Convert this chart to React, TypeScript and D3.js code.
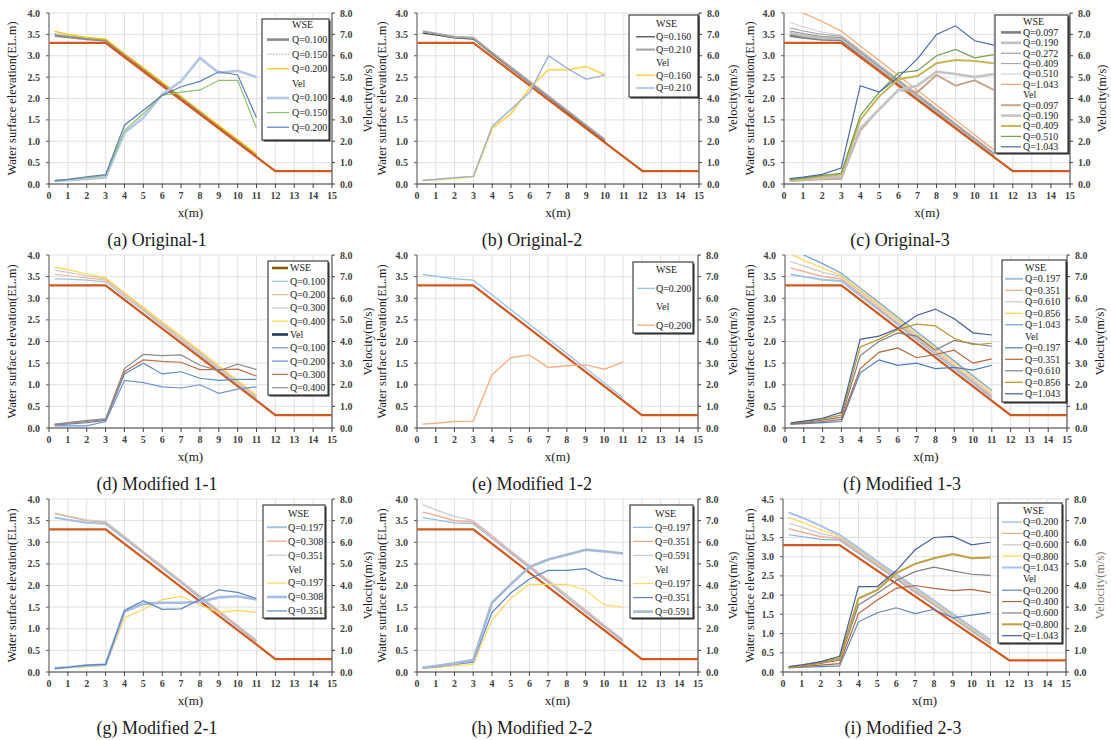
import React from "react";
import * as d3 from "d3";

// stations (m) where WSE and velocity were measured
const xs = [0.3, 1, 2, 3, 4, 5, 6, 7, 8, 9, 10, 11];
// channel bed profile
const bedX = [0, 3, 12, 15];
const bedY = [3.3, 3.3, 0.3, 0.3];
const xTicks = d3.range(0, 16);

// (a) Original-1
const aWseQ = ["Q=0.100", "Q=0.150", "Q=0.200"];
const aWse = [
  [3.47, 3.44, 3.39, 3.36, 3.02, 2.69, 2.35, 2.01, 1.67, 1.34, 1.0, 0.66],
  [3.52, 3.47, 3.41, 3.37, 3.03, 2.7, 2.36, 2.03, 1.69, 1.35, 1.02, 0.68],
  [3.57, 3.5, 3.43, 3.39, 3.05, 2.72, 2.38, 2.05, 1.71, 1.37, 1.04, 0.7],
];
const aVelQ = ["Q=0.100", "Q=0.150", "Q=0.200"];
const aVel = [
  [0.14, 0.18, 0.24, 0.3, 2.4, 3.1, 4.2, 4.8, 5.9, 5.2, 5.3, 5.0],
  [0.14, 0.2, 0.3, 0.4, 2.5, 3.3, 4.15, 4.3, 4.4, 4.85, 4.85, 2.6],
  [0.16, 0.22, 0.34, 0.44, 2.75, 3.45, 4.15, 4.55, 4.8, 5.25, 5.1, 3.1],
];

// (b) Original-2
const bWseQ = ["Q=0.160", "Q=0.210"];
const bWse = [
  [3.53, 3.49, 3.42, 3.39, 3.04, 2.7, 2.36, 2.02, 1.68, 1.34, 1.0],
  [3.57, 3.52, 3.44, 3.42, 3.07, 2.73, 2.39, 2.05, 1.71, 1.37, 1.03],
];
const bVelQ = ["Q=0.160", "Q=0.210"];
const bVel = [
  [0.17, 0.2, 0.27, 0.35, 2.6, 3.3, 4.5, 5.35, 5.35, 5.5, 5.1],
  [0.17, 0.22, 0.3, 0.35, 2.7, 3.5, 4.3, 6.0, 5.4, 4.9, 5.1],
];

// (c) Original-3
const cWseQ = ["Q=0.097", "Q=0.190", "Q=0.272", "Q=0.409", "Q=0.510", "Q=1.043"];
const cWse = [
  [3.47, 3.43, 3.38, 3.37, 3.03, 2.7, 2.36, 2.02, 1.68, 1.35, 1.01, 0.67],
  [3.53, 3.47, 3.41, 3.4, 3.06, 2.72, 2.38, 2.04, 1.71, 1.37, 1.03, 0.69],
  [3.58, 3.52, 3.45, 3.43, 3.09, 2.75, 2.41, 2.07, 1.73, 1.39, 1.05, 0.71],
  [3.65, 3.58, 3.5, 3.46, 3.12, 2.78, 2.44, 2.1, 1.75, 1.41, 1.07, 0.73],
  [3.78, 3.68, 3.55, 3.49, 3.15, 2.8, 2.46, 2.12, 1.78, 1.43, 1.09, 0.75],
  [4.12, 4.0, 3.8, 3.58, 3.23, 2.89, 2.54, 2.19, 1.85, 1.5, 1.15, 0.8],
];
const cVelQ = ["Q=0.097", "Q=0.190", "Q=0.409", "Q=0.510", "Q=1.043"];
const cVel = [
  [0.15, 0.18, 0.22, 0.25, 2.5, 3.5, 4.4, 4.3, 5.1, 4.6, 4.85, 4.4],
  [0.15, 0.2, 0.28, 0.35, 2.6, 3.5, 4.4, 4.6, 5.25, 5.15, 5.0, 5.15],
  [0.18, 0.25, 0.35, 0.45, 3.0, 4.1, 4.9, 5.05, 5.65, 5.8, 5.75, 5.65],
  [0.2, 0.28, 0.4, 0.5, 3.2, 4.3, 5.2, 5.3, 6.0, 6.3, 5.9, 6.05],
  [0.25, 0.32, 0.45, 0.75, 4.6, 4.3, 5.0, 5.85, 7.0, 7.4, 6.7, 6.5],
];

// (d) Modified 1-1
const dWseQ = ["Q=0.100", "Q=0.200", "Q=0.300", "Q=0.400"];
const dWse = [
  [3.45, 3.44, 3.42, 3.38, 3.04, 2.71, 2.37, 2.03, 1.69, 1.36, 1.02, 0.68],
  [3.55, 3.52, 3.47, 3.42, 3.08, 2.74, 2.4, 2.07, 1.73, 1.39, 1.05, 0.71],
  [3.65, 3.6, 3.52, 3.45, 3.11, 2.77, 2.43, 2.09, 1.75, 1.41, 1.07, 0.73],
  [3.72, 3.66, 3.56, 3.47, 3.13, 2.79, 2.45, 2.12, 1.78, 1.44, 1.1, 0.76],
];
const dVelQ = ["Q=0.100", "Q=0.200", "Q=0.300", "Q=0.400"];
const dVel = [
  [0.1, 0.1, 0.1, 0.3, 2.2, 2.1, 1.9, 1.85, 2.0, 1.6, 1.8, 1.9],
  [0.14, 0.18, 0.25, 0.35, 2.5, 3.0, 2.5, 2.6, 2.3, 2.2, 2.25, 2.25],
  [0.16, 0.22, 0.3, 0.4, 2.6, 3.15, 3.08, 3.04, 2.7, 2.7, 2.72, 2.4],
  [0.18, 0.25, 0.35, 0.42, 2.75, 3.4, 3.35, 3.38, 2.9, 2.65, 2.95, 2.7],
];

// (e) Modified 1-2
const eWseQ = ["Q=0.200"];
const eWse = [[3.55, 3.51, 3.45, 3.42, 3.08, 2.74, 2.4, 2.06, 1.72, 1.38, 1.04, 0.7]];
const eVelQ = ["Q=0.200"];
const eVel = [[0.18, 0.22, 0.3, 0.32, 2.45, 3.25, 3.38, 2.8, 2.88, 2.92, 2.72, 3.05]];

// (f) Modified 1-3
const fWseQ = ["Q=0.197", "Q=0.351", "Q=0.610", "Q=0.856", "Q=1.043"];
const fWse = [
  [3.55, 3.5, 3.43, 3.4, 3.06, 2.73, 2.39, 2.05, 1.71, 1.38, 1.04, 0.7],
  [3.7, 3.62, 3.5, 3.45, 3.11, 2.77, 2.43, 2.1, 1.76, 1.42, 1.08, 0.74],
  [3.85, 3.75, 3.6, 3.5, 3.16, 2.82, 2.48, 2.14, 1.8, 1.46, 1.12, 0.78],
  [4.02, 3.88, 3.7, 3.53, 3.19, 2.86, 2.52, 2.18, 1.84, 1.51, 1.17, 0.83],
  [4.15, 4.0, 3.8, 3.58, 3.24, 2.9, 2.56, 2.23, 1.89, 1.55, 1.21, 0.87],
];
const fVelQ = ["Q=0.197", "Q=0.351", "Q=0.610", "Q=0.856", "Q=1.043"];
const fVel = [
  [0.18, 0.2, 0.25, 0.3, 2.55, 3.15, 2.9, 3.0, 2.75, 2.8, 2.68, 2.9],
  [0.18, 0.22, 0.3, 0.4, 2.75, 3.5, 3.7, 3.25, 3.4, 3.6, 3.0, 3.2],
  [0.2, 0.26, 0.36, 0.5, 3.35, 4.0, 4.4, 4.25, 3.6, 4.05, 3.9, 3.78],
  [0.22, 0.3, 0.42, 0.6, 3.75, 4.1, 4.55, 4.8, 4.72, 4.15, 3.85, 3.92],
  [0.24, 0.32, 0.45, 0.72, 4.1, 4.25, 4.6, 5.2, 5.5, 5.05, 4.4, 4.3],
];

// (g) Modified 2-1
const gWseQ = ["Q=0.197", "Q=0.308", "Q=0.351"];
const gWse = [
  [3.57, 3.52, 3.45, 3.43, 3.09, 2.75, 2.41, 2.07, 1.72, 1.38, 1.04, 0.7],
  [3.66, 3.59, 3.5, 3.46, 3.12, 2.77, 2.43, 2.09, 1.75, 1.4, 1.06, 0.72],
  [3.68, 3.61, 3.52, 3.48, 3.14, 2.79, 2.45, 2.11, 1.77, 1.42, 1.08, 0.74],
];
const gVelQ = ["Q=0.197", "Q=0.308", "Q=0.351"];
const gVel = [
  [0.16, 0.2, 0.25, 0.3, 2.5, 2.9, 3.35, 3.5, 3.1, 2.75, 2.85, 2.75],
  [0.18, 0.22, 0.3, 0.35, 2.8, 3.15, 3.2, 3.2, 3.25, 3.45, 3.5, 3.35],
  [0.16, 0.22, 0.32, 0.35, 2.85, 3.3, 2.9, 2.92, 3.35, 3.8, 3.68, 3.4],
];

// (h) Modified 2-2
const hWseQ = ["Q=0.197", "Q=0.351", "Q=0.591"];
const hWse = [
  [3.57, 3.52, 3.45, 3.43, 3.09, 2.75, 2.41, 2.07, 1.72, 1.38, 1.04, 0.7],
  [3.7, 3.62, 3.5, 3.47, 3.13, 2.78, 2.44, 2.1, 1.76, 1.41, 1.07, 0.73],
  [3.87, 3.75, 3.6, 3.5, 3.16, 2.81, 2.47, 2.13, 1.78, 1.44, 1.09, 0.75],
];
const hVelQ = ["Q=0.197", "Q=0.351", "Q=0.591"];
const hVel = [
  [0.16, 0.2, 0.28, 0.35, 2.4, 3.4, 4.05, 4.05, 4.05, 3.78, 3.1, 3.0],
  [0.18, 0.24, 0.35, 0.45, 2.75, 3.65, 4.3, 4.7, 4.7, 4.78, 4.35, 4.2],
  [0.2, 0.28, 0.4, 0.55, 3.2, 4.05, 4.85, 5.2, 5.42, 5.65, 5.58, 5.48],
];

// (i) Modified 2-3
const iWseQ = ["Q=0.200", "Q=0.400", "Q=0.600", "Q=0.800", "Q=1.043"];
const iWse = [
  [3.57, 3.52, 3.45, 3.43, 3.09, 2.75, 2.41, 2.07, 1.74, 1.4, 1.06, 0.72],
  [3.73, 3.64, 3.52, 3.47, 3.13, 2.79, 2.45, 2.11, 1.77, 1.43, 1.09, 0.75],
  [3.87, 3.77, 3.6, 3.5, 3.16, 2.82, 2.48, 2.14, 1.79, 1.45, 1.11, 0.77],
  [4.02, 3.9, 3.7, 3.53, 3.19, 2.85, 2.51, 2.17, 1.82, 1.48, 1.14, 0.8],
  [4.15, 4.02, 3.8, 3.57, 3.23, 2.88, 2.54, 2.2, 1.86, 1.51, 1.17, 0.83],
];
const iVelQ = ["Q=0.200", "Q=0.400", "Q=0.600", "Q=0.800", "Q=1.043"];
const iVel = [
  [0.19, 0.22, 0.25, 0.28, 2.32, 2.74, 2.97, 2.7, 2.9, 2.5, 2.63, 2.76],
  [0.2, 0.25, 0.32, 0.39, 2.7, 3.33, 3.87, 4.0, 3.87, 3.76, 3.82, 3.67],
  [0.21, 0.28, 0.4, 0.54, 3.1, 3.64, 4.23, 4.64, 4.85, 4.68, 4.52, 4.47],
  [0.22, 0.3, 0.45, 0.62, 3.4, 3.8, 4.57, 5.0, 5.26, 5.45, 5.26, 5.3],
  [0.25, 0.33, 0.48, 0.73, 3.95, 3.95, 4.68, 5.65, 6.22, 6.27, 5.88, 6.0],
];

type St = { c: string; w: number; dash?: string };
const s = (c: string, w = 1.2, dash?: string): St => ({ c, w, dash });

const FONT = "Liberation Serif";
const BED = "#d2581e";

const panels = [
  {
    id: "a", cap: "(a)  Original-1", l: 49, r: 332, t: 13, b: 184, yMax: 4,
    lt: 12, rt: 368, capX: 157,
    lg: { x: 262, y: 19, w: 67, h: 121, r0: 25, dy: 14.6, s0: 5, s1: 27, tx: 30 },
    wseQ: aWseQ, wse: aWse, velQ: aVelQ, vel: aVel,
    wseSt: [s("#8c8c8c", 2.6), s("#a6a6a6", 1, "1.5,1.5"), s("#ffc000", 1.2)],
    velSt: [s("#b4c7e7", 2.6), s("#8fc26b", 1.2), s("#5b7fb5", 1.2)],
  },
  {
    id: "b", cap: "(b)  Original-2", l: 417, r: 699, t: 13, b: 184, yMax: 4,
    lt: 382, rt: 733, capX: 532,
    lg: { x: 629, y: 15, w: 69, h: 82, r0: 24, dy: 12.8, s0: 7, s1: 26, tx: 27 },
    wseQ: bWseQ, wse: bWse, velQ: bVelQ, vel: bVel,
    wseSt: [s("#404040", 1.2), s("#a6a6a6", 2.2)],
    velSt: [s("#ffd966", 2), s("#8faadc", 1.2)],
  },
  {
    id: "c", cap: "(c)  Original-3", l: 784, r: 1070, t: 13, b: 184, yMax: 4,
    lt: 750, rt: 1102, capX: 900,
    lg: { x: 995, y: 15, w: 73, h: 138, r0: 22, dy: 10.4, s0: 6, s1: 26, tx: 28 },
    wseQ: cWseQ, wse: cWse, velQ: cVelQ, vel: cVel,
    wseSt: [s("#7f7f7f", 2.6), s("#bfbfbf", 2.6), s("#8c8c8c", 1), s("#a0a0a0", 1), s("#cccccc", 1), s("#f4a46c", 1.2)],
    velSt: [s("#c9a58f", 2), s("#c4c4c4", 2.6), s("#c9b458", 2), s("#70a050", 1.2), s("#4a6aa8", 1.2)],
  },
  {
    id: "d", cap: "(d)  Modified 1-1", l: 49, r: 332, t: 255, b: 428, yMax: 4,
    lt: 12, rt: 368, capX: 157,
    lg: { x: 268, y: 261, w: 60, h: 134, r0: 268, dy: 13.3, s0: 4, s1: 20, tx: 22 },
    hdr: [s("#806000", 2.6), s("#203864", 2.6)],
    wseQ: dWseQ, wse: dWse, velQ: dVelQ, vel: dVel,
    wseSt: [s("#9dc3e6"), s("#f8b894"), s("#c9c9c9"), s("#ffd34d")],
    velSt: [s("#6f93d8"), s("#5b8ec4"), s("#c0714a"), s("#8c8c8c")],
  },
  {
    id: "e", cap: "(e)  Modified 1-2", l: 417, r: 698, t: 255, b: 428, yMax: 4,
    lt: 382, rt: 733, capX: 532,
    lg: { x: 633, y: 262, w: 60, h: 71, r0: 270, dy: 18.4, s0: 4, s1: 22, tx: 23 },
    wseQ: eWseQ, wse: eWse, velQ: eVelQ, vel: eVel,
    wseSt: [s("#9dc3e6", 1.4)],
    velSt: [s("#f4b183", 1.4)],
  },
  {
    id: "f", cap: "(f)  Modified 1-3", l: 785, r: 1067, t: 255, b: 428, yMax: 4,
    lt: 750, rt: 1100, capX: 902,
    lg: { x: 1002, y: 260, w: 64, h: 142, r0: 267.3, dy: 11.5, s0: 3, s1: 21, tx: 23 },
    wseQ: fWseQ, wse: fWse, velQ: fVelQ, vel: fVel,
    wseSt: [s("#9dc3e6", 2), s("#f4a582"), s("#c9c9c9"), s("#ffd34d"), s("#6f9fdc")],
    velSt: [s("#4f7cbd"), s("#b5653a"), s("#7f7f7f"), s("#b8962a"), s("#44609c")],
  },
  {
    id: "g", cap: "(g)  Modified 2-1", l: 49, r: 332, t: 499, b: 672, yMax: 4,
    lt: 12, rt: 368, capX: 157,
    lg: { x: 263, y: 505, w: 62, h: 113, r0: 513.3, dy: 13.95, s0: 4, s1: 24, tx: 25 },
    wseQ: gWseQ, wse: gWse, velQ: gVelQ, vel: gVel,
    wseSt: [s("#9dc3e6", 2), s("#f4a582"), s("#c9c9c9")],
    velSt: [s("#ffd34d"), s("#a4bde6", 2.6), s("#5f84b8")],
  },
  {
    id: "h", cap: "(h)  Modified 2-2", l: 417, r: 698, t: 499, b: 672, yMax: 4,
    lt: 382, rt: 733, capX: 532,
    lg: { x: 630, y: 505, w: 63, h: 113, r0: 513.3, dy: 14.05, s0: 3, s1: 23, tx: 25 },
    wseQ: hWseQ, wse: hWse, velQ: hVelQ, vel: hVel,
    wseSt: [s("#8fb4e3"), s("#f4a582"), s("#c9c9c9")],
    velSt: [s("#ffd966"), s("#5a82c8"), s("#a4b8d8", 2.6)],
  },
  {
    id: "i", cap: "(i)  Modified 2-3", l: 783, r: 1066, t: 499, b: 672, yMax: 4.5,
    lt: 750, rt: 1100, capX: 903, rtColor: "#7b7b6b",
    lg: { x: 998, y: 503, w: 64, h: 140, r0: 510.7, dy: 11.36, s0: 4, s1: 24, tx: 25 },
    wseQ: iWseQ, wse: iWse, velQ: iVelQ, vel: iVel,
    wseSt: [s("#8fb4e3"), s("#f4a582"), s("#c9c9c9"), s("#ffd34d"), s("#a4c2f4", 2)],
    velSt: [s("#5f84b8"), s("#b5653a"), s("#7f7f7f"), s("#bfa040", 2), s("#44609c")],
  },
];

function Panel({ p }: { p: any }) {
  const x = d3.scaleLinear().domain([0, 15]).range([p.l, p.r]);
  const yL = d3.scaleLinear().domain([0, p.yMax]).range([p.b, p.t]);
  const yR = d3.scaleLinear().domain([0, 8]).range([p.b, p.t]);
  const lTicks = d3.range(0, p.yMax + 0.01, 0.5);
  const rTicks = d3.range(0, 8.01, 1);
  const lineL = d3.line<number>().x((_, i) => x(xs[i])).y((d) => yL(d));
  const lineR = d3.line<number>().x((_, i) => x(xs[i])).y((d) => yR(d));
  const bed = d3.line<number>().x((_, i) => x(bedX[i])).y((d) => yL(d));
  const midY = (p.t + p.b) / 2;
  const clip = `clip-${p.id}`;

  // legend rows: header, wse entries, header, vel entries
  const rows: any[] = [
    { label: "WSE", st: p.hdr ? p.hdr[0] : null },
    ...p.wseQ.map((q: string, i: number) => ({ label: q, st: p.wseSt[i] })),
    { label: "Vel", st: p.hdr ? p.hdr[1] : null },
    ...p.velQ.map((q: string, i: number) => ({ label: q, st: p.velSt[i] })),
  ];
  const lg = p.lg;

  return (
    <g>
      <defs>
        <clipPath id={clip}>
          <rect x={p.l} y={p.t} width={p.r - p.l} height={p.b - p.t} />
        </clipPath>
      </defs>
      {/* grid */}
      {xTicks.map((t) => (
        <line key={"gx" + t} x1={x(t)} x2={x(t)} y1={p.t} y2={p.b} stroke="#d9d9d9" strokeWidth={0.8} />
      ))}
      {lTicks.map((t) => (
        <line key={"gy" + t} x1={p.l} x2={p.r} y1={yL(t)} y2={yL(t)} stroke="#d9d9d9" strokeWidth={0.8} />
      ))}
      {/* axes */}
      <line x1={p.l} x2={p.l} y1={p.t} y2={p.b} stroke="#595959" strokeWidth={1} />
      <line x1={p.r} x2={p.r} y1={p.t} y2={p.b} stroke="#404040" strokeWidth={1} />
      <line x1={p.l} x2={p.r} y1={p.b} y2={p.b} stroke="#404040" strokeWidth={1} />
      {xTicks.map((t) => (
        <g key={"xt" + t}>
          <line x1={x(t)} x2={x(t)} y1={p.b} y2={p.b + 4} stroke="#404040" />
          <text x={x(t)} y={p.b + 15} textAnchor="middle" fontSize={10} fontWeight="bold" fill="#404040">{t}</text>
        </g>
      ))}
      {lTicks.map((t) => (
        <g key={"lt" + t}>
          <line x1={p.l - 3} x2={p.l} y1={yL(t)} y2={yL(t)} stroke="#595959" />
          <text x={p.l - 9} y={yL(t) + 3.5} textAnchor="end" fontSize={10} fontWeight="bold" fill="#404040">{t.toFixed(1)}</text>
        </g>
      ))}
      {rTicks.map((t) => (
        <g key={"rt" + t}>
          <line x1={p.r} x2={p.r + 3} y1={yR(t)} y2={yR(t)} stroke="#404040" />
          <text x={p.r + 8} y={yR(t) + 3.5} textAnchor="start" fontSize={10} fontWeight="bold" fill="#404040">{t.toFixed(1)}</text>
        </g>
      ))}
      {/* titles */}
      <text transform={`translate(${p.lt},${midY}) rotate(-90)`} textAnchor="middle" dominantBaseline="central" fontSize={12.5} fill="#1a1a1a">
        Water surface elevation(EL.m)
      </text>
      <text transform={`translate(${p.rt},${midY}) rotate(-90)`} textAnchor="middle" dominantBaseline="central" fontSize={12.5} fill={p.rtColor || "#1a1a1a"}>
        Velocity(m/s)
      </text>
      <text x={(p.l + p.r) / 2} y={p.b + 33} textAnchor="middle" fontSize={13} fill="#1a1a1a">x(m)</text>
      <text x={p.capX} y={p.b + 62} textAnchor="middle" fontSize={18} fill="#1a1a1a">{p.cap}</text>
      {/* series */}
      <g clipPath={`url(#${clip})`} fill="none">
        {p.wse.map((d: number[], i: number) => (
          <path key={"w" + i} d={lineL(d) || ""} stroke={p.wseSt[i].c} strokeWidth={p.wseSt[i].w} strokeDasharray={p.wseSt[i].dash} />
        ))}
        <path d={bed(bedY) || ""} stroke={BED} strokeWidth={2.2} />
        {p.vel.map((d: number[], i: number) => (
          <path key={"v" + i} d={lineR(d) || ""} stroke={p.velSt[i].c} strokeWidth={p.velSt[i].w} strokeDasharray={p.velSt[i].dash} />
        ))}
      </g>
      {/* legend */}
      <g>
        <rect x={lg.x + 1.5} y={lg.y + 1.5} width={lg.w} height={lg.h} fill="#222" />
        <rect x={lg.x} y={lg.y} width={lg.w} height={lg.h} fill="#fff" stroke="#404040" strokeWidth={1.2} />
        {rows.map((row, k) => {
          const yy = lg.r0 + k * lg.dy;
          return (
            <g key={"lg" + k}>
              {row.st && (
                <line x1={lg.x + lg.s0} x2={lg.x + lg.s1} y1={yy} y2={yy} stroke={row.st.c} strokeWidth={row.st.w} strokeDasharray={row.st.dash} />
              )}
              <text x={lg.x + lg.tx} y={yy + 3.4} fontSize={10} fill="#1a1a1a">{row.label}</text>
            </g>
          );
        })}
      </g>
    </g>
  );
}

export default function App() {
  return (
    <svg
      width={1111}
      height={740}
      fontFamily={FONT}
      style={{ position: "absolute", left: 0, top: 0, background: "#fff", fontFamily: FONT }}
    >
      {panels.map((p) => (
        <Panel key={p.id} p={p} />
      ))}
    </svg>
  );
}
